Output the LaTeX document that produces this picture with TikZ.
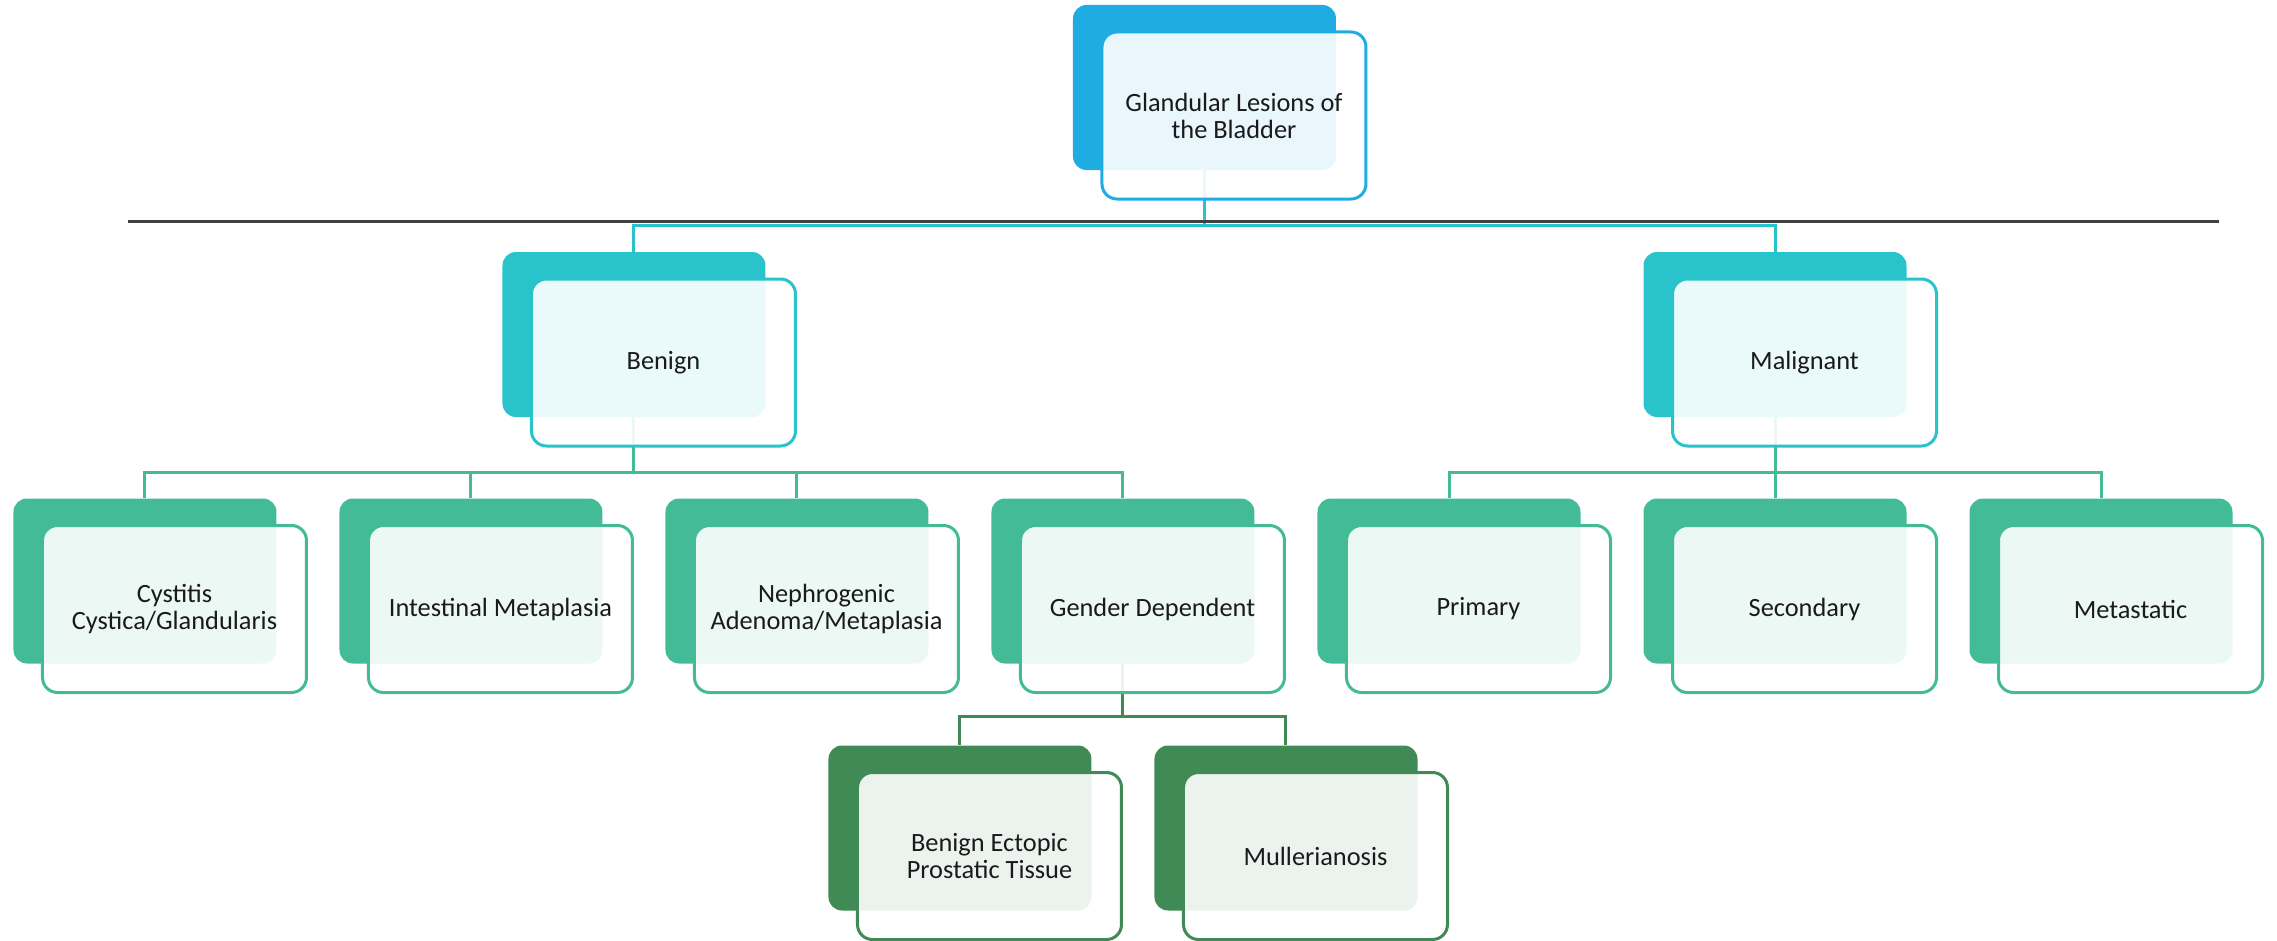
\documentclass[tikz,border=0pt]{standalone}
\usepackage{fontspec}
\setmainfont{Carlito}
\usetikzlibrary{positioning, backgrounds}
\definecolor{topc}{HTML}{1FACE3}
\definecolor{midc}{HTML}{29C4CB}
\definecolor{leafc}{HTML}{44BB97}
\definecolor{lowc}{HTML}{3F8A55}
\definecolor{rulec}{HTML}{404040}
\definecolor{txt}{HTML}{1A1A1A}

\tikzset{
  shadebox/.style={rectangle, rounded corners=0.27cm, fill=#1, minimum width=5.26cm, minimum height=3.3cm, inner sep=0pt},
  labelbox/.style={rectangle, rounded corners=0.3cm, draw=#1, line width=0.06cm, fill=white, fill opacity=0.9, draw opacity=1, text opacity=1, text=txt,
    minimum width=5.28cm, minimum height=3.34cm, inner sep=0pt, align=center, font=\fontsize{15}{15.4}\selectfont},
  linkline/.style={draw=#1, line width=0.06cm}
}

\begin{document}
\begin{tikzpicture}[node distance=6.52cm, on grid]
   \useasboundingbox (-24.09,1.75) rectangle (21.45,-17.07);

   % coloured back plates
   \node[shadebox=topc] (back_top) {};
   \node[shadebox=midc] (back_ben) [below left=4.94cm and 11.41cm of back_top] {};
   \node[shadebox=midc] (back_mal) [below right=4.94cm and 11.41cm of back_top] {};
   \node[shadebox=leafc] (back_ccg) [below left=4.93cm and 9.78cm of back_ben] {};
   \node[shadebox=leafc] (back_im) [right=of back_ccg] {};
   \node[shadebox=leafc] (back_nam) [right=of back_im] {};
   \node[shadebox=leafc] (back_gd) [right=of back_nam] {};
   \node[shadebox=leafc] (back_pri) [right=of back_gd] {};
   \node[shadebox=leafc] (back_sec) [right=of back_pri] {};
   \node[shadebox=leafc] (back_met) [right=of back_sec] {};
   \node[shadebox=lowc] (back_bep) [below left=4.94cm and 3.26cm of back_gd] {};
   \node[shadebox=lowc] (back_mul) [right=of back_bep] {};

   % connectors
   \begin{scope}[on background layer]
      \foreach \n in {ben, mal}
         \draw[linkline=midc] (back_top.south) -- ++(0,-1.1) -| (back_\n.north);
      \foreach \n in {ccg, im, nam, gd}
         \draw[linkline=leafc] (back_ben.south) -- ++(0,-1.1) -| (back_\n.north);
      \foreach \n in {pri, sec, met}
         \draw[linkline=leafc] (back_mal.south) -- ++(0,-1.1) -| (back_\n.north);
      \foreach \n in {bep, mul}
         \draw[linkline=lowc] (back_gd.south) -- ++(0,-1.06) -| (back_\n.north);
   \end{scope}

   % dark rule under the title
   \coordinate (rule_l) at (-21.52,-2.67);
   \coordinate (rule_r) at (20.28,-2.67);
   \draw[rulec, line width=0.06cm] (rule_l) -- (rule_r);

   % text frames
   \node[labelbox=topc] (top) [below right=0.56cm and 0.59cm of back_top] {Glandular Lesions of\\the Bladder};
   \node[labelbox=midc] (ben) [below right=0.56cm and 0.59cm of back_ben] {Benign};
   \node[labelbox=midc] (mal) [below right=0.56cm and 0.59cm of back_mal] {Malignant};
   \node[labelbox=leafc] (ccg) [below right=0.56cm and 0.59cm of back_ccg] {Cystitis\\Cystica/Glandularis};
   \node[labelbox=leafc] (im) [below right=0.56cm and 0.59cm of back_im] {Intestinal Metaplasia};
   \node[labelbox=leafc] (nam) [below right=0.56cm and 0.59cm of back_nam] {Nephrogenic\\Adenoma/Metaplasia};
   \node[labelbox=leafc] (gd) [below right=0.56cm and 0.59cm of back_gd] {Gender Dependent};
   \node[labelbox=leafc] (pri) [below right=0.56cm and 0.59cm of back_pri] {Primary};
   \node[labelbox=leafc] (sec) [below right=0.56cm and 0.59cm of back_sec] {Secondary};
   \node[labelbox=leafc] (met) [below right=0.56cm and 0.59cm of back_met] {Metastatic};
   \node[labelbox=lowc] (bep) [below right=0.56cm and 0.59cm of back_bep] {Benign Ectopic\\Prostatic Tissue};
   \node[labelbox=lowc] (mul) [below right=0.56cm and 0.59cm of back_mul] {Mullerianosis};
\end{tikzpicture}
\end{document}
